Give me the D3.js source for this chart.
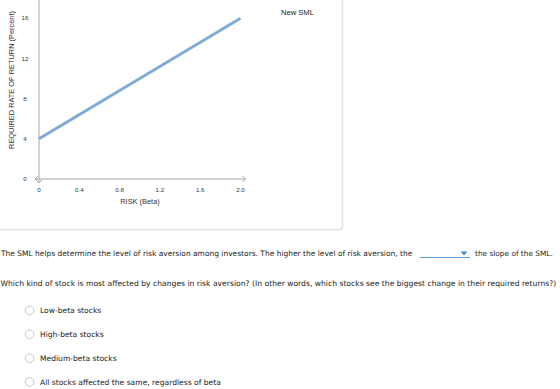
<!DOCTYPE html>
<html><head><meta charset="utf-8">
<script src="https://cdn.jsdelivr.net/npm/d3@7/dist/d3.min.js"></script>
<style>body{margin:0;background:#fff}svg{display:block}</style>
</head><body>
<svg id="c" width="560" height="389"></svg>
<script>
// Data
const betaValues = [0, 2.0];
const returnValues = [4, 16];
const seriesName = "New SML";
const xTicks = [0, 0.4, 0.8, 1.2, 1.6, 2.0];
const xTickLabels = ["0", "0.4", "0.8", "1.2", "1.6", "2.0"];
const yTicks = [0, 4, 8, 12, 16];
const xTitle = "RISK (Beta)";
const yTitle = "REQUIRED RATE OF RETURN (Percent)";
const sentence1a = "The SML helps determine the level of risk aversion among investors. The higher the level of risk aversion, the";
const sentence1b = "the slope of the SML.";
const sentence2 = "Which kind of stock is most affected by changes in risk aversion? (In other words, which stocks see the biggest change in their required returns?)";
const options = ["Low-beta stocks", "High-beta stocks", "Medium-beta stocks", "All stocks affected the same, regardless of beta"];

const svg = d3.select("#c");

// panel box
svg.append("path")
  .attr("d", "M-5,-5 H342.5 V226.5 Q342.5,229.5 339.5,229.5 H-5")
  .attr("fill", "none").attr("stroke", "#e2e2e2").attr("stroke-width", 1.5);

const x = d3.scaleLinear().domain([0, 2.0]).range([39, 240.5]);
const y = d3.scaleLinear().domain([0, 16]).range([179, 18.2]);

const axisColor = "#a6a6a6";
const g = svg.append("g");
// y axis line
g.append("line").attr("x1", x(0)).attr("x2", x(0)).attr("y1", 0).attr("y2", y(0) + 4)
  .attr("stroke", axisColor).attr("stroke-width", 1);
// x axis line
g.append("line").attr("x1", x(0) - 4).attr("x2", x(2.0) + 5).attr("y1", y(0)).attr("y2", y(0))
  .attr("stroke", axisColor).attr("stroke-width", 1);
// arrowheads
const ax = x(0), ay = y(0), rx = x(2.0) + 5;
g.append("path").attr("d", `M${ax-1},${ay-3} L${ax-4},${ay} L${ax-1},${ay+3}`).attr("fill","none").attr("stroke",axisColor);
g.append("path").attr("d", `M${ax-3},${ay+1} L${ax},${ay+4} L${ax+3},${ay+1}`).attr("fill","none").attr("stroke",axisColor);
g.append("path").attr("d", `M${rx-3},${ay-3} L${rx},${ay} L${rx-3},${ay+3}`).attr("fill","none").attr("stroke",axisColor);

const tickFont = "Liberation Sans, Arial, sans-serif";
g.selectAll(".xt").data(xTicks).enter().append("text")
  .attr("x", d => x(d)).attr("y", 192)
  .attr("text-anchor", "middle").attr("font-family", tickFont).attr("font-size", 6.2).attr("fill", "#333")
  .text((d, i) => xTickLabels[i]);
g.selectAll(".yt").data(yTicks).enter().append("text")
  .attr("x", 25).attr("y", d => y(d) + 2.2)
  .attr("text-anchor", "middle").attr("font-family", tickFont).attr("font-size", 6.2).attr("fill", "#333")
  .text(d => d);

g.append("text").attr("x", 140).attr("y", 203.5).attr("text-anchor", "middle")
  .attr("font-family", tickFont).attr("font-size", 7.4).attr("fill", "#333").text(xTitle);
g.append("text").attr("transform", "translate(13.5,80) rotate(-90)").attr("text-anchor", "middle")
  .attr("font-family", tickFont).attr("font-size", 7.4).attr("fill", "#333").text(yTitle);

// SML line
const pts = betaValues.map((b, i) => [b, returnValues[i]]);
g.append("path").datum(pts)
  .attr("d", d3.line().x(d => x(d[0])).y(d => y(d[1])))
  .attr("fill", "none").attr("stroke", "#7fabd6").attr("stroke-width", 3);

g.append("text").attr("x", 281).attr("y", 14.5).attr("font-family", tickFont)
  .attr("font-size", 7.6).attr("fill", "#222").text(seriesName);

// question text
const qFont = "DejaVu Sans, Verdana, sans-serif";
function fitText(sel, target) {
  const w = sel.node().getComputedTextLength();
  const fs = parseFloat(sel.attr("font-size"));
  sel.attr("font-size", fs * target / w);
}
const t1 = svg.append("text").attr("x", 1).attr("y", 256).attr("font-family", qFont).attr("font-size", 7).attr("fill", "#222").text(sentence1a);
fitText(t1, 412);
const t1b = svg.append("text").attr("x", 475).attr("y", 256).attr("font-family", qFont).attr("font-size", 7).attr("fill", "#222").text(sentence1b);
fitText(t1b, 78);
// dropdown
svg.append("line").attr("x1", 420).attr("x2", 470).attr("y1", 257.5).attr("y2", 257.5).attr("stroke", "#5b9bd5").attr("stroke-width", 1);
svg.append("path").attr("d", "M460.5,251.5 L467.5,251.5 L464,255.5 Z").attr("fill", "#3d8fd8");

const t2 = svg.append("text").attr("x", 0.5).attr("y", 286).attr("font-family", qFont).attr("font-size", 7).attr("fill", "#222").text(sentence2);
fitText(t2, 557);

const optY = d3.scalePoint().domain(options).range([310.5, 382]);
const og = svg.selectAll(".opt").data(options).enter().append("g");
og.append("circle").attr("cx", 29.5).attr("cy", d => optY(d)).attr("r", 4.3)
  .attr("fill", "#fff").attr("stroke", "#bdbdbd").attr("stroke-width", 0.8);
og.append("text").attr("x", 40).attr("y", d => optY(d) + 2.6).attr("font-family", qFont)
  .attr("font-size", 7).attr("fill", "#222").text(d => d);
const lastOpt = og.filter((d, i) => i === 3).select("text");
const w3 = lastOpt.node().getComputedTextLength();
const optFs = 7 * 181 / w3;
og.selectAll("text").attr("font-size", optFs);
</script>
</body></html>
